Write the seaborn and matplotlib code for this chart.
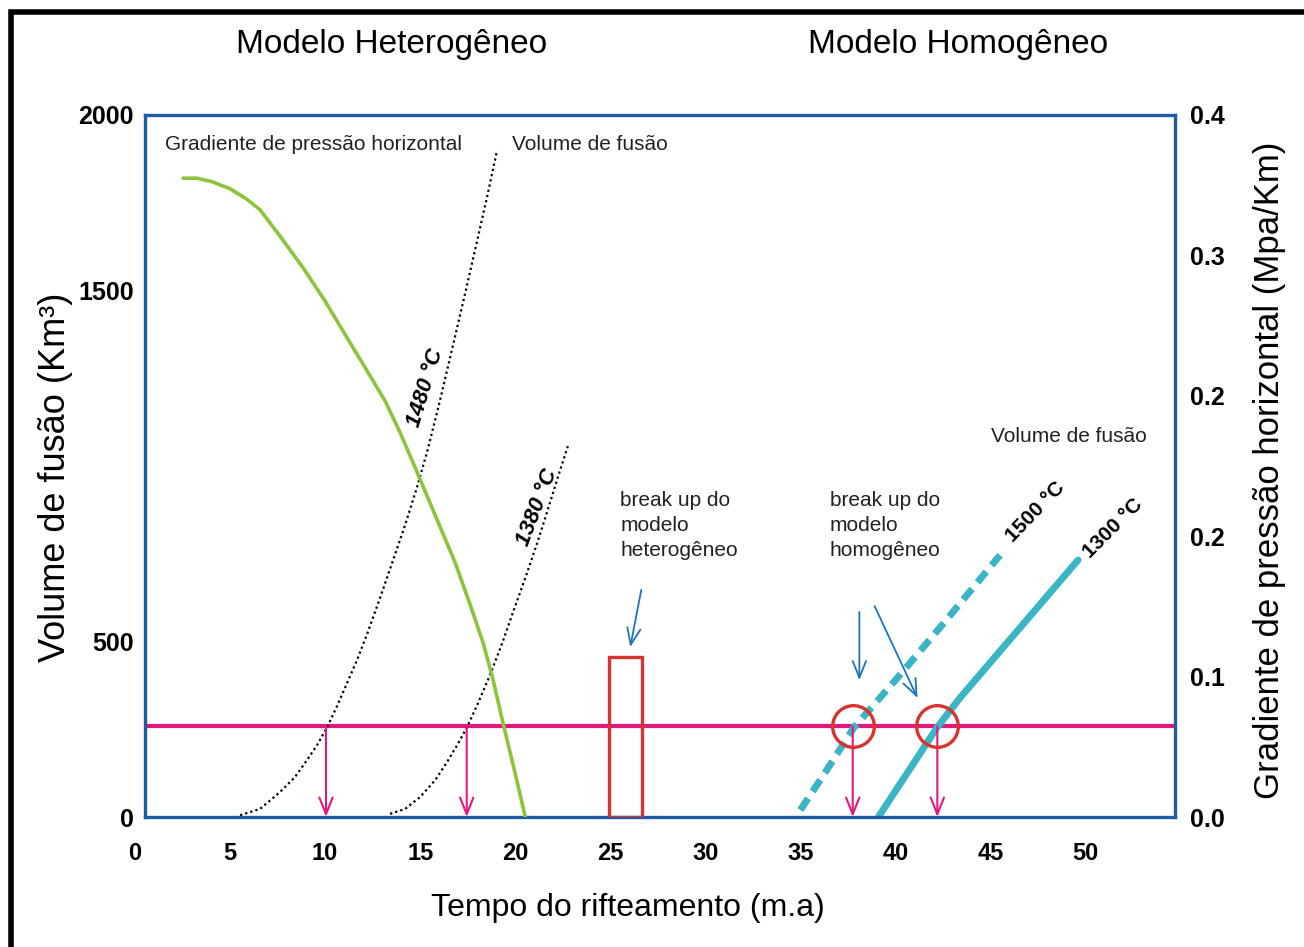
import matplotlib
matplotlib.use('Agg')
import matplotlib.pyplot as plt
import seaborn as sns
from matplotlib.lines import Line2D
from matplotlib.patches import Rectangle

# ---- data ----
x_ticks = [0, 5, 10, 15, 20, 25, 30, 35, 40, 45, 50]
left_ticks = [0, 500, 1000, 1500, 2000]
left_labels = ['0', '500', '', '1500', '2000']
right_ticks = [0, 0.08, 0.16, 0.24, 0.32, 0.40]
right_labels = ['0.0', '0.1', '0.2', '0.2', '0.3', '0.4']

# pressure gradient (right axis, Mpa/Km)
t_grad = [2.53, 3.26, 4.05, 5.0, 5.89, 6.58, 7.63, 8.84, 10.0, 11.05, 12.11,
          13.16, 13.95, 14.74, 15.79, 16.84, 17.63, 18.32, 18.84, 19.37, 19.95, 20.53]
grad = [0.364, 0.364, 0.362, 0.358, 0.352, 0.346, 0.331, 0.313, 0.294, 0.275, 0.256,
        0.237, 0.219, 0.199, 0.172, 0.145, 0.121, 0.099, 0.078, 0.053, 0.027, 0.0]

# melt volume, heterogeneous model (left axis, Km3)
t_1480 = [5.53, 6.58, 7.63, 8.42, 9.05, 9.58, 10.11, 10.63, 11.16, 11.68, 12.21,
          12.89, 13.58, 14.21, 14.84, 15.42, 16.05, 16.68, 17.32, 17.95, 18.53, 19.05]
vol_1480 = [5, 23, 71, 114, 162, 205, 256, 316, 382, 447, 521,
            624, 732, 832, 940, 1051, 1188, 1333, 1481, 1630, 1769, 1900]
t_1380 = [13.42, 14.21, 15.0, 15.79, 16.42, 16.95, 17.47, 18.05, 18.68, 19.32,
          19.89, 20.53, 21.16, 21.74, 22.26, 22.79]
vol_1380 = [9, 23, 57, 105, 157, 205, 256, 325, 405, 496,
            584, 681, 781, 880, 971, 1060]

# melt volume, homogeneous model
t_1500 = [35.0, 36.4, 37.8, 40.0, 42.5, 45.5]
vol_1500 = [20, 135, 254, 390, 550, 746]
t_1300 = [39.1, 42.2, 43.4, 49.6]
vol_1300 = [0, 256, 340, 732]

melt_level = 258
drop_x = [10.05, 17.45, 37.75, 42.2]
circle_x = [37.75, 42.2]
rect_x = [24.95, 26.65]
rect_top = 456
# (start, end) of the blue pointer arrows
pointers = [((26.63, 647), (26.05, 484)),
            ((38.1, 584), (38.1, 390)),
            ((38.9, 601), (41.16, 339))]

# ---- style ----
sns.set_theme(style='white')
plt.rcParams['font.family'] = ['Liberation Sans', 'DejaVu Sans']
plt.rcParams['text.color'] = 'black'
plt.rcParams['axes.labelcolor'] = 'black'

AXIS_BLUE = '#1f5ba6'
GREEN = '#8cc43c'
MAGENTA = '#e2187f'
RED = '#d8332c'
CYAN = '#3ab5c6'
ARROW_BLUE = '#1b75bb'
TXT = '#222222'

W, H = 1304, 947
fig = plt.figure(figsize=(W / 100, H / 100), dpi=100)
ax = fig.add_axes([145 / W, 1 - 817 / H, 1030 / W, 702 / H])
ax2 = ax.twinx()

ax.set_xlim(0.53, 54.7)
ax.set_ylim(0, 2000)
ax2.set_ylim(0, 0.4)

# curves
sns.lineplot(x=t_grad, y=grad, ax=ax2, color=GREEN, lw=2.6, estimator=None, sort=False)
sns.lineplot(x=t_1480, y=vol_1480, ax=ax, color='black', lw=1.6,
             linestyle=(0, (1, 1.4)), estimator=None, sort=False)
sns.lineplot(x=t_1380, y=vol_1380, ax=ax, color='black', lw=1.6,
             linestyle=(0, (1, 1.4)), estimator=None, sort=False)
sns.lineplot(x=t_1500, y=vol_1500, ax=ax, color=CYAN, lw=5,
             linestyle=(0, (2.0, 1.2)), estimator=None, sort=False)
sns.lineplot(x=t_1300, y=vol_1300, ax=ax, color=CYAN, lw=5,
             estimator=None, sort=False)

ax.axhline(melt_level, color=MAGENTA, lw=3, zorder=1.5)

for x in drop_x:
    ax.annotate('', xy=(x, 0), xytext=(x, melt_level),
                arrowprops=dict(arrowstyle='->,head_length=0.8,head_width=0.32',
                                color=MAGENTA, lw=1.5, mutation_scale=15,
                                shrinkA=0, shrinkB=0))

ax.add_patch(Rectangle((rect_x[0], 0), rect_x[1] - rect_x[0], rect_top,
                       fill=False, edgecolor=RED, lw=2.4, zorder=3))
ax.plot(circle_x, [melt_level] * len(circle_x), 'o', mfc='none', mec=RED,
        ms=30, mew=2.4, zorder=4)

for start, end in pointers:
    ax.annotate('', xy=end, xytext=start,
                arrowprops=dict(arrowstyle='->,head_length=0.8,head_width=0.32',
                                color=ARROW_BLUE, lw=1.3, mutation_scale=15,
                                shrinkA=0, shrinkB=0))

# annotations
ax.text(1.58, 1915, 'Gradiente de pressão horizontal', fontsize=15, color=TXT,
        ha='left', va='center')
ax.text(19.84, 1915, 'Volume de fusão', fontsize=15, color=TXT, ha='left', va='center')
ax.text(45.0, 1083, 'Volume de fusão', fontsize=15, color=TXT, ha='left', va='center')
ax.text(25.53, 930, 'break up do\nmodelo\nheterogêneo', fontsize=15, color=TXT,
        ha='left', va='top', linespacing=1.4)
ax.text(36.53, 930, 'break up do\nmodelo\nhomogêneo', fontsize=15, color=TXT,
        ha='left', va='top', linespacing=1.4)
ax.text(15.26, 1222, '1480 °C', fontsize=16, fontweight='bold', fontstyle='italic',
        rotation=73, ha='center', va='center', rotation_mode='anchor')
ax.text(21.16, 883, '1380 °C', fontsize=16, fontweight='bold', fontstyle='italic',
        rotation=69, ha='center', va='center', rotation_mode='anchor')
ax.text(47.37, 869, '1500 °C', fontsize=15, fontweight='bold',
        rotation=46, ha='center', va='center', rotation_mode='anchor')
ax.text(51.42, 823, '1300 °C', fontsize=15, fontweight='bold',
        rotation=45, ha='center', va='center', rotation_mode='anchor')

# axes styling
for a in (ax, ax2):
    for s in a.spines.values():
        s.set_visible(False)
for s in ax.spines.values():
    s.set_visible(True)
    s.set_color(AXIS_BLUE)
    s.set_linewidth(2.4)

ax.set_xticks([])
for x in x_ticks:
    ax.text(x, -0.052, str(x), transform=ax.get_xaxis_transform(), ha='center',
            va='center', fontsize=17, fontweight='bold', clip_on=False)

ax.set_yticks(left_ticks, left_labels, fontsize=18, fontweight='bold')
ax.set_yticks([500, 1000, 1500], minor=True)
ax.tick_params(axis='y', which='major', length=0, pad=8, colors='black')
ax.tick_params(axis='y', which='minor', direction='in', length=8, width=3,
               color='black', left=True)

ax2.set_yticks(right_ticks, right_labels, fontsize=18, fontweight='bold')
ax2.set_yticks(right_ticks[1:-1], minor=True)
ax2.tick_params(axis='y', which='major', length=0, pad=11, colors='black')
ax2.tick_params(axis='y', which='minor', direction='in', length=8, width=3,
                color='black', right=True)

ax.set_xlabel('Tempo do rifteamento (m.a)', fontsize=23, va='center')
ax.xaxis.set_label_coords(0.469, -0.130)
ax.set_ylabel('Volume de fusão (Km³)', fontsize=26, va='center')
ax.yaxis.set_label_coords(-0.087, 0.484)
ax2.set_ylabel('Gradiente de pressão horizontal (Mpa/Km)', fontsize=25,
               rotation=90, va='center')
ax2.yaxis.set_label_coords(1.092, 0.494)

fig.text(392 / W, 1 - 44 / H, 'Modelo Heterogêneo', fontsize=24, ha='center', va='center')
fig.text(958 / W, 1 - 44 / H, 'Modelo Homogêneo', fontsize=24, ha='center', va='center')

# frame around the picture (top and left only, as in the source)
fig.add_artist(Line2D([11 / W, 11 / W, 1.0], [0.0, 1 - 12 / H, 1 - 12 / H],
                      transform=fig.transFigure, color='black', lw=4,
                      solid_joinstyle='miter'))

fig.savefig('out.png', dpi=100)
